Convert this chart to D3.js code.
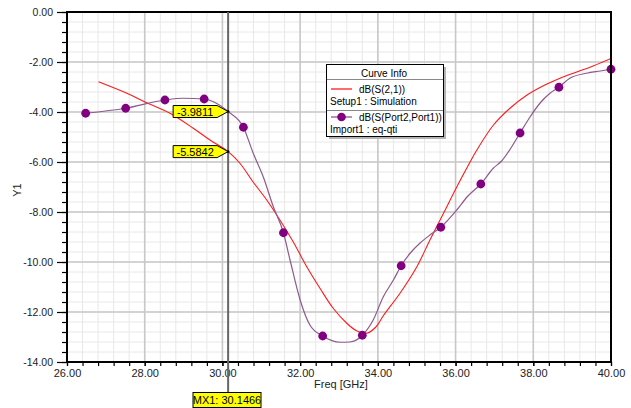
<!DOCTYPE html>
<html><head><meta charset="utf-8">
<script src="https://cdn.jsdelivr.net/npm/d3@7"></script>
<style>body{margin:0;background:#fff}svg{display:block;font-family:"Liberation Sans",Arial,sans-serif}</style>
</head><body><svg id="c" width="631" height="408"></svg>
<script>
const xTicks = [26, 28, 30, 32, 34, 36, 38, 40];
const yTicks = [0, -2, -4, -6, -8, -10, -12, -14];
const simFreq = [26.81, 27.54, 28.05, 28.65, 29.25, 29.68, 30.1466, 30.45, 30.79, 31.14, 31.48, 31.82, 32.17, 32.51, 32.85, 33.20, 33.45, 33.71, 33.95, 34.14, 34.57, 35.00, 35.34, 35.69, 36.03, 36.37, 36.54, 36.97, 37.40, 37.83, 38.26, 38.69, 39.12, 39.54, 40.00];
const simDb = [-2.79, -3.25, -3.63, -4.05, -4.65, -5.12, -5.5842, -6.05, -6.8, -7.52, -8.32, -9.19, -10.19, -11.05, -11.85, -12.45, -12.75, -12.85, -12.6, -12.15, -11.25, -10.2, -9.12, -8.05, -7.0, -6.01, -5.54, -4.53, -3.85, -3.33, -2.95, -2.65, -2.4, -2.16, -1.86];
const measFreq = [26.48, 27.51, 28.52, 29.0, 29.53, 29.77, 30.1466, 30.54, 30.79, 31.05, 31.31, 31.57, 31.74, 32.0, 32.25, 32.58, 33.03, 33.28, 33.60, 33.88, 34.14, 34.40, 34.60, 34.83, 35.08, 35.34, 35.62, 36.03, 36.30, 36.65, 36.97, 37.19, 37.40, 37.66, 37.92, 38.17, 38.43, 38.66, 38.94, 39.37, 39.72, 40.0];
const measDb = [-4.05, -3.85, -3.52, -3.45, -3.48, -3.59, -3.9811, -4.61, -5.64, -6.59, -7.79, -8.83, -9.92, -11.52, -12.52, -12.96, -13.21, -13.2, -12.93, -12.32, -11.39, -10.72, -10.15, -9.65, -9.25, -8.92, -8.61, -7.92, -7.39, -6.88, -6.25, -5.95, -5.5, -4.84, -4.19, -3.65, -3.25, -3.01, -2.65, -2.45, -2.36, -2.29];
const markFreq = [26.48, 27.51, 28.52, 29.53, 30.54, 31.57, 32.58, 33.60, 34.60, 35.62, 36.65, 37.66, 38.66, 40.0];
const markDb = [-4.05, -3.85, -3.52, -3.48, -4.61, -8.83, -12.96, -12.93, -10.15, -8.61, -6.88, -4.84, -3.01, -2.29];
const mxFreq = 30.1466;
const mxValues = [-3.9811, -5.5842];
const mxLabels = ["-3.9811", "-5.5842"];
const legendNames = ["dB(S(2,1))", "dB(S(Port2,Port1))"];
const legendSources = ["Setup1 : Simulation", "Import1 : eq-qti"];

const svg = d3.select("#c");
const L = 67, R = 611, T = 12, B = 362;
const x = d3.scaleLinear().domain([26, 40]).range([L, R]);
const y = d3.scaleLinear().domain([-14, 0]).range([B, T]);

// grid
const g = svg.append("g");
const minorX = d3.range(0, 36).map(i => 26 + i * 0.4).filter(v => v < 40.01);
const minorY = d3.range(0, 36).map(i => -i * 0.4).filter(v => v > -14.01);
g.selectAll(".mx").data(minorX).join("line").attr("x1", d => x(d)).attr("x2", d => x(d)).attr("y1", T).attr("y2", B).attr("stroke", "#e8e8e8").attr("stroke-width", 1);
g.selectAll(".my").data(minorY).join("line").attr("y1", d => y(d)).attr("y2", d => y(d)).attr("x1", L).attr("x2", R).attr("stroke", "#e8e8e8").attr("stroke-width", 1);
g.selectAll(".Mx").data(xTicks).join("line").attr("x1", d => x(d)).attr("x2", d => x(d)).attr("y1", T).attr("y2", B).attr("stroke", "#c8c8c8").attr("stroke-width", 1.6);
g.selectAll(".My").data(yTicks).join("line").attr("y1", d => y(d)).attr("y2", d => y(d)).attr("x1", L).attr("x2", R).attr("stroke", "#c8c8c8").attr("stroke-width", 1.6);

// axes
const yAxis = svg.append("g").attr("transform", `translate(${L},0)`)
  .call(d3.axisLeft(y).tickValues(minorY).tickSize(5).tickFormat(""));
yAxis.select(".domain").remove();
const yAxisM = svg.append("g").attr("transform", `translate(${L},0)`)
  .call(d3.axisLeft(y).tickValues(yTicks).tickSize(10).tickPadding(4).tickFormat(d => d.toFixed(2)));
yAxisM.select(".domain").remove();
yAxisM.selectAll("text").attr("font-size", 10.5).attr("fill", "#222").attr("font-family", "Liberation Sans, Arial");

const xAxis = svg.append("g").attr("transform", `translate(0,${B})`)
  .call(d3.axisBottom(x).tickValues(minorX).tickSize(4).tickFormat(""));
xAxis.select(".domain").remove();
const xAxisM = svg.append("g").attr("transform", `translate(0,${B})`)
  .call(d3.axisBottom(x).tickValues(xTicks).tickSize(4).tickPadding(3).tickFormat(d => d.toFixed(2)));
xAxisM.select(".domain").remove();
xAxisM.selectAll("text").attr("font-size", 11).attr("fill", "#222").attr("font-family", "Liberation Sans, Arial");
svg.selectAll(".tick line").attr("stroke", "#000").attr("stroke-width", 1.2);

svg.append("text").attr("x", 314).attr("y", 388).attr("font-size", 11).attr("fill", "#222").text("Freq [GHz]");
svg.append("text").attr("transform", "translate(21,190) rotate(-90)").attr("text-anchor", "middle").attr("font-size", 11).attr("fill", "#222").text("Y1");

// curves
svg.append("clipPath").attr("id", "pc").append("rect").attr("x", L).attr("y", T).attr("width", R - L).attr("height", B - T);
const simLine = d3.line().x(d => x(d[0])).y(d => y(d[1])).curve(d3.curveCatmullRom.alpha(0.5));
const measLine = d3.line().x(d => x(d[0])).y(d => y(d[1])).curve(d3.curveMonotoneX);
svg.append("path").attr("clip-path", "url(#pc)").attr("d", simLine(d3.zip(simFreq, simDb)))
  .attr("fill", "none").attr("stroke", "#ff1a1a").attr("stroke-width", 1.1);
svg.append("path").attr("clip-path", "url(#pc)").attr("d", measLine(d3.zip(measFreq, measDb)))
  .attr("fill", "none").attr("stroke", "#8e5a8e").attr("stroke-width", 1.2);
svg.selectAll(".pt").data(d3.zip(markFreq, markDb)).join("circle")
  .attr("cx", d => x(d[0])).attr("cy", d => y(d[1])).attr("r", 4.4).attr("fill", "#800080");

// border
svg.append("rect").attr("x", L).attr("y", T).attr("width", R - L).attr("height", B - T)
  .attr("fill", "none").attr("stroke", "#000").attr("stroke-width", 2);

// marker line
const mx = x(mxFreq);
svg.append("line").attr("x1", mx).attr("x2", mx).attr("y1", T).attr("y2", 392).attr("stroke", "#666").attr("stroke-width", 2);

// flags
mxValues.forEach((v, i) => {
  const ty = y(v);
  const x0 = mx - 55, x1 = mx - 11;
  svg.append("path").attr("d", `M${x0},${ty - 6}H${x1}L${mx},${ty}L${x1},${ty + 6}H${x0}Z`)
    .attr("fill", "#ffff00").attr("stroke", "#000").attr("stroke-width", 1);
  svg.append("circle").attr("cx", mx).attr("cy", ty).attr("r", 1.3).attr("fill", "#000");
  svg.append("text").attr("x", (x0 + x1) / 2).attr("y", ty + 4).attr("text-anchor", "middle")
    .attr("font-size", 11).attr("fill", "#000").text(mxLabels[i]);
});

// MX1 label
svg.append("rect").attr("x", 193).attr("y", 392.5).attr("width", 68).attr("height", 15)
  .attr("fill", "#ffff00").attr("stroke", "#000").attr("stroke-width", 1);
svg.append("text").attr("x", 227).attr("y", 404).attr("text-anchor", "middle").attr("font-size", 11).attr("fill", "#000")
  .text("MX1: " + mxFreq.toFixed(4));

// legend
const lg = svg.append("g").attr("transform", "translate(326,64)");
lg.append("rect").attr("x", 3).attr("y", 3).attr("width", 117).attr("height", 72).attr("fill", "#b4b4b4");
lg.append("rect").attr("x", 0.5).attr("y", 0.5).attr("width", 117).attr("height", 72).attr("fill", "#fff").attr("stroke", "#000");
lg.append("text").attr("x", 58).attr("y", 13).attr("text-anchor", "middle").attr("font-size", 10).text("Curve Info");
lg.append("line").attr("x1", 1).attr("x2", 117).attr("y1", 15.5).attr("y2", 15.5).attr("stroke", "#888");
lg.append("line").attr("x1", 1).attr("x2", 117).attr("y1", 46.5).attr("y2", 46.5).attr("stroke", "#888");
const rows = [{c: "#ff1a1a", dot: false, y: 25}, {c: "#8e5a8e", dot: true, y: 53}];
rows.forEach((r, i) => {
  lg.append("line").attr("x1", 5).attr("x2", 26).attr("y1", r.y).attr("y2", r.y).attr("stroke", r.c).attr("stroke-width", 1.3);
  if (r.dot) lg.append("circle").attr("cx", 15.5).attr("cy", r.y).attr("r", 4.3).attr("fill", "#800080");
  lg.append("text").attr("x", 33).attr("y", r.y + 3.5).attr("font-size", 10).text(legendNames[i]);
  lg.append("text").attr("x", 4).attr("y", r.y + 15.5).attr("font-size", 10).text(legendSources[i]);
});
</script></body></html>
